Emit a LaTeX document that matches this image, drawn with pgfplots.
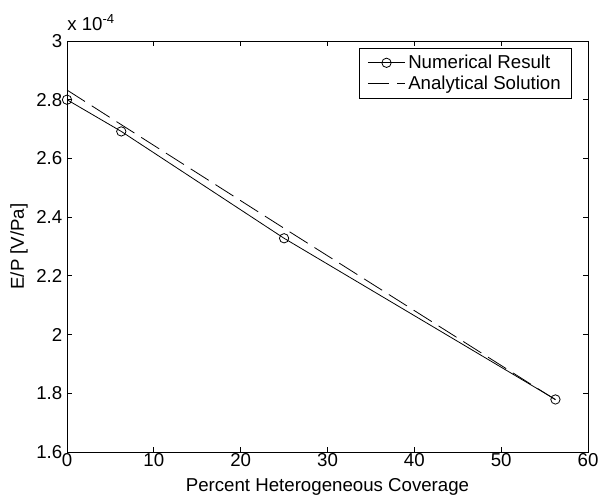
\documentclass[border=0pt]{standalone}
\usepackage{pgfplots}
\pgfplotsset{compat=1.18}
\usepackage{fontspec}
\setmainfont{Liberation Sans}
\pgfplotsset{longleg/.style={legend image code/.code={\draw[mark repeat=2,mark phase=2,##1] plot coordinates {(0pt,0pt) (14pt,0pt) (28pt,0pt)};}}}
\begin{document}
\begin{tikzpicture}[font=\fontsize{14}{16.8}\selectfont]
\begin{axis}[
  scale only axis, width=390.75pt, height=308.25pt,
  xmin=0, xmax=60, ymin=1.6, ymax=3,
  xtick={0,10,20,30,40,50,60},
  xticklabels={0,10,20,30,40,50,60},
  ytick={1.6,1.8,2,2.2,2.4,2.6,2.8,3},
  yticklabels={1.6,1.8,2,2.2,2.4,2.6,2.8,3},
  tick align=inside, major tick length=4pt,
  axis line style={black, line width=0.6pt},
  every tick/.style={black, line width=0.6pt},
  xticklabel style={inner sep=1pt},
  xlabel={Percent Heterogeneous Coverage},
  ylabel={E/P [V/Pa]},
  xlabel style={at={(axis description cs:0.5,-0.086)}, anchor=center},
  ylabel style={at={(axis description cs:-0.092,0.5)}, anchor=center},
  clip=false,
  legend cell align=left,
  legend style={at={(rel axis cs:0.969,0.983)}, anchor=north east, draw=black,
    line width=0.6pt, fill=white, inner xsep=6pt, inner ysep=3pt,
    font=\fontsize{14}{16.8}\selectfont,
    /tikz/every even column/.style={column sep=10pt}},
]
\coordinate (sw) at (rel axis cs:0,0);
\coordinate (ne) at (rel axis cs:1,1);
\addplot[black, line width=0.6pt, mark=o, mark size=3.5pt, mark options={solid}, longleg]
  coordinates {(0,2.800) (6.25,2.692) (25,2.328) (56.25,1.779)};
\addlegendentry{Numerical Result}
\addplot[black, line width=0.6pt, dash pattern=on 16pt off 6pt, longleg]
  coordinates {(0,2.833) (6.25,2.715) (25,2.362) (56.25,1.778)};
\addlegendentry{Analytical Solution}
\node[anchor=base west, inner sep=0pt] at (rel axis cs:0,1) [yshift=8pt] {x 10\textsuperscript{-4}};
\end{axis}
\path ([xshift=-50.25pt,yshift=-36pt]sw) rectangle ([xshift=9.75pt,yshift=30.75pt]ne);
\end{tikzpicture}
\end{document}
